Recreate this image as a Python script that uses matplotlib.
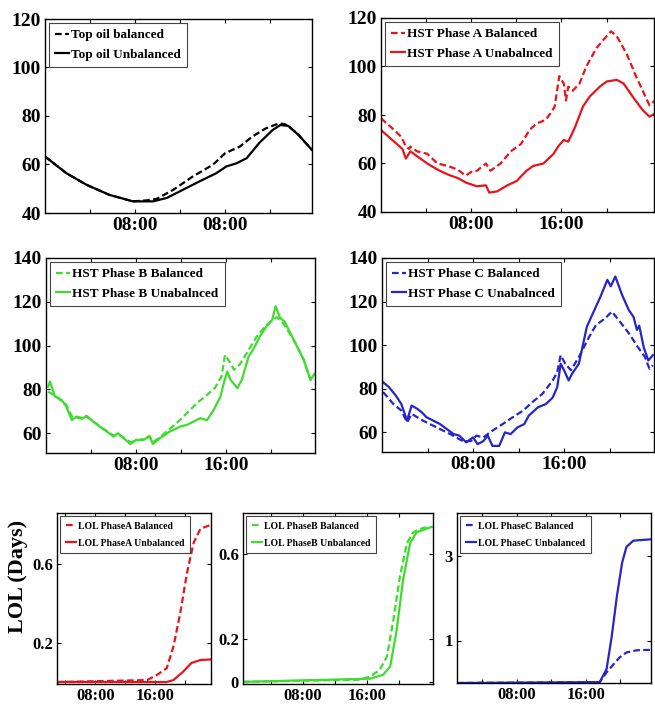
import numpy as np
import matplotlib
matplotlib.use('Agg')
import matplotlib.pyplot as plt

plt.rcParams['font.family'] = ['Liberation Serif', 'DejaVu Serif']
plt.rcParams['font.weight'] = 'bold'

# ---- data (hour of day, value) ----
# top oil temperature
oil_bal_h = [0, 1.9, 3.7, 5.7, 7.8, 9.0, 9.9, 11.4, 13.1, 14.9, 16, 17.3, 18.4, 19.6, 20.8, 21.3, 21.6, 22.5, 23.7]
oil_bal = [63.3, 56.4, 51.6, 47.5, 44.8, 45.2, 45.8, 49.6, 55, 59.9, 64.7, 67.4, 71.5, 74.9, 77, 76.6, 75.9, 72.2, 66]
oil_unb_h = [0, 1.9, 3.7, 5.7, 7.8, 9.6, 10.8, 12, 13.7, 15.2, 16.1, 17, 17.9, 19, 20.2, 20.9, 21.6, 22.5, 23.7]
oil_unb = [63.3, 56.4, 51.6, 47.5, 44.8, 44.8, 46.2, 49, 53, 56.4, 59.2, 60.5, 62.6, 68.8, 74.2, 76.3, 75.9, 72.2, 66]

# hot spot temperature, phase A
hsa_bal_h = [0, 1, 1.8, 2.2, 2.5, 2.6, 3.2, 4.1, 5, 5.9, 6.8, 7.5, 8, 8.5, 9.3, 9.7, 10.6, 11.5, 12.4, 13.2, 13.8,
             14.6, 15, 15.4, 15.8, 16.2, 16.4, 16.6, 17, 17.6, 18.2, 19.1, 20, 20.4, 20.9, 21.8, 22.6, 23.4, 23.8, 24.3]
hsa_bal = [78.6, 74.5, 71, 67, 66, 67, 65, 64, 60, 59, 57.5, 55, 56.5, 57, 60, 57, 60, 65, 68, 74, 76.5,
           78, 80.5, 83.5, 96, 93, 86, 91.7, 90, 93, 100, 107.6, 112.5, 114.5, 112.5, 105, 96, 88, 84, 86]
hsa_unb_h = [0, 1, 1.9, 2.2, 2.6, 3.2, 4.1, 5, 5.9, 6.8, 7.6, 8.5, 9.3, 9.6, 10.3, 11.2, 12, 12.9, 13.5, 14.4,
             15.3, 15.7, 16.2, 16.6, 17.2, 17.9, 18.5, 19.4, 20, 20.9, 21.5, 22.4, 23.2, 23.8, 24.3]
hsa_unb = [73.8, 69.7, 66, 62, 65, 63, 60, 57.5, 55.5, 54, 52, 50.6, 51, 48, 48.5, 51, 52.7, 57, 59, 60,
           64, 67, 69.7, 69, 75, 83.5, 87.6, 91.7, 93.8, 94.5, 93, 87, 82, 79.3, 80.7]

# hot spot temperature, phase B
hsb_bal_h = [0.2, 0.9, 1.8, 2.3, 2.7, 3.3, 3.6, 4.2, 4.8, 5.4, 6, 6.4, 6.9, 7.5, 8, 8.7, 9.2, 9.5, 10.1, 10.7,
             11.6, 12.5, 13.4, 14.3, 15, 15.6, 15.9, 16.4, 16.7, 17.2, 18, 18.7, 19.6, 20.5, 21.1, 22, 22.9, 23.5, 23.9]
hsb_bal = [79, 76.8, 73, 67.6, 67.2, 66.5, 67.5, 65.5, 63, 61, 59, 59.5, 58, 56, 56.5, 57.5, 58.5, 56, 58, 60.8,
           64.6, 69.1, 73.7, 77.5, 80.6, 86, 95.8, 92, 89, 91.3, 98, 104, 109.5, 113, 110, 102.7, 93.5, 84.4, 87.4]
hsb_unb_h = [0.2, 0.35, 0.8, 1.4, 1.8, 2.3, 2.7, 3.3, 3.6, 4.2, 4.8, 5.4, 6, 6.4, 6.9, 7.5, 8, 8.7, 9.2, 9.5,
             10.1, 11, 11.9, 12.5, 13.1, 13.7, 14.3, 14.9, 15.5, 15.8, 16.1, 16.4, 17, 17.4, 18, 18.4, 19, 19.6,
             20.1, 20.4, 20.8, 21.2, 22, 22.9, 23.5, 23.9]
hsb_unb = [81.3, 83.6, 76.8, 75.2, 72.2, 66, 67.6, 66.9, 68, 65.3, 63, 60.8, 58.5, 60, 57.7, 55.1, 57, 57, 58.8, 55.1,
           57.7, 60.8, 63, 63.8, 65.3, 66.9, 66, 70.7, 76.8, 82.9, 88.2, 84.4, 80.6, 84.4, 95, 98.1, 104.2, 108.8,
           111.8, 118, 112.6, 111, 102.7, 93.5, 84.4, 87.4]

# hot spot temperature, phase C
hsc_bal_h = [0.1, 1, 1.7, 2.2, 2.6, 3.6, 4.8, 6, 7.1, 7.8, 8.3, 8.9, 9.7, 10.6, 11.5, 12.4, 13.2, 14.1, 15, 15.4,
             15.7, 16.1, 16.6, 17.3, 18.2, 18.8, 19.6, 20.2, 20.8, 21.7, 22.5, 23.1, 23.5, 23.8]
hsc_bal = [78.5, 73, 70, 64.6, 68.5, 65.4, 62.3, 59.2, 56, 56, 58.5, 57.7, 60.8, 63.8, 67, 70, 73.8, 77.7, 83.8, 87.7,
           95.4, 91.5, 88.5, 94.6, 103.8, 109.2, 112.3, 115.4, 111.5, 105.4, 99, 94.6, 89.2, 90.8]
hsc_unb_h = [0.1, 0.6, 1.2, 1.7, 2.2, 2.6, 3.1, 3.5, 3.9, 4.5, 5.1, 5.7, 6.3, 6.8, 7.4, 8, 8.4, 8.9, 9.3, 9.7,
             10.3, 10.8, 11.3, 11.9, 12.5, 12.9, 13.7, 14.4, 15, 15.4, 15.7, 16, 16.4, 16.7, 17.3, 18, 18.8, 19.2,
             19.8, 20.1, 20.5, 21.1, 21.7, 22.1, 22.4, 22.6, 23, 23.4, 23.8]
hsc_unb = [83, 80.8, 77, 73, 65.4, 72.3, 70.8, 69.2, 67, 65.4, 63.8, 61.5, 59.2, 58.5, 55.4, 57.7, 54.6, 56, 58.5, 53.8,
           53.8, 60, 59.2, 62.3, 63.8, 67.7, 71.5, 73, 76, 80.8, 91.5, 88.5, 83.8, 86.9, 91.5, 108.5, 117.7, 122.3,
           130, 127, 131.5, 123, 116, 113, 107, 109, 99, 93, 95.4]

# loss of life (days)
lola_bal_h = [2.9, 14.9, 16.2, 17.5, 18.4, 19.3, 20.2, 21.1, 22, 23.4]
lola_bal = [0.0, 0.01, 0.036, 0.07, 0.18, 0.35, 0.555, 0.71, 0.78, 0.80]
lola_unb_h = [2.9, 17.5, 18.4, 19.7, 20.8, 22, 23.4]
lola_unb = [0.0, 0.0, 0.01, 0.053, 0.097, 0.112, 0.115]

lolb_bal_h = [0.5, 15.1, 16.4, 17.6, 18.5, 19.3, 20.1, 21, 21.8, 23, 24.1]
lolb_bal = [0.0, 0.01, 0.025, 0.056, 0.12, 0.29, 0.49, 0.65, 0.70, 0.72, 0.725]
lolb_unb_h = [0.5, 16.4, 18, 18.9, 19.7, 20.5, 21.4, 22.2, 24.1]
lolb_unb = [0.0, 0.015, 0.033, 0.072, 0.24, 0.475, 0.65, 0.70, 0.725]

lolc_bal_h = [1.05, 17.6, 18.4, 19.2, 19.9, 20.7, 21.9, 23.5]
lolc_bal = [0.0, 0.02, 0.25, 0.44, 0.6, 0.72, 0.77, 0.78]
lolc_unb_h = [1.05, 17.6, 18.4, 19, 19.6, 20.2, 20.7, 21.5, 23.5]
lolc_unb = [0.0, 0.02, 0.33, 1.1, 2.05, 2.83, 3.2, 3.35, 3.38]

hour_ticks = [4, 8, 12, 16, 20]
RED = '#e8141c'
GREEN = '#3ddc2e'
BLUE = '#2626c8'

W, H = 655, 708
fig = plt.figure(figsize=(W / 100, H / 100), dpi=100)


def box(l, t, r, b):
    return [l / W, 1 - b / H, (r - l) / W, (b - t) / H]


def panel(rect, color, bal, unb, labels, xlim, ylim, yticks, ylabels, xlabels,
          tsize=14, lsize=9.5, lspace=0.55, lpad=0.45, lw=1.6):
    ax = fig.add_axes(rect)
    ax.plot(bal[0], bal[1], '--', color=color, lw=lw, dashes=(3, 1.5), label=labels[0])
    ax.plot(unb[0], unb[1], '-', color=color, lw=lw, label=labels[1])
    ax.set_xlim(xlim)
    ax.set_ylim(ylim)
    ax.set_xticks(hour_ticks)
    ax.set_xticklabels(xlabels)
    ax.set_yticks(yticks)
    ax.set_yticklabels(ylabels)
    ax.tick_params(direction='in', top=True, right=True, length=3, labelsize=tsize, pad=3)
    for s in ax.spines.values():
        s.set_linewidth(1.0)
    leg = ax.legend(loc='upper left', fontsize=lsize, handlelength=1.1, handletextpad=0.15,
                    borderpad=lpad, labelspacing=lspace, borderaxespad=0.3, fancybox=False,
                    framealpha=1, edgecolor='#444444')
    leg.get_frame().set_linewidth(0.8)
    return ax


xl = ['', '08:00', '', '16:00', '']
t_top = [40, 60, 80, 100, 120]
t_mid = [60, 80, 100, 120, 140]

panel(box(45, 19, 312, 213), 'black', (oil_bal_h, oil_bal), (oil_unb_h, oil_unb),
      ['Top oil balanced', 'Top oil Unbalanced'], (0, 23.7), (40, 120),
      t_top, [str(v) for v in t_top], ['', '08:00', '', '08:00', ''])

panel(box(381, 18, 654, 212), RED, (hsa_bal_h, hsa_bal), (hsa_unb_h, hsa_unb),
      ['HST Phase A Balanced', 'HST Phase A Unabalnced'], (0, 24.2), (40, 120),
      t_top, [str(v) for v in t_top], xl)

panel(box(46, 258, 315, 453), GREEN, (hsb_bal_h, hsb_bal), (hsb_unb_h, hsb_unb),
      ['HST Phase B Balanced', 'HST Phase B Unabalnced'], (0, 23.9), (51, 140),
      t_mid, [str(v) for v in t_mid], xl)

panel(box(382, 258, 654, 452), BLUE, (hsc_bal_h, hsc_bal), (hsc_unb_h, hsc_unb),
      ['HST Phase C Balanced', 'HST Phase C Unabalnced'], (0, 23.9), (51, 140),
      t_mid, [str(v) for v in t_mid], xl)

panel(box(57, 513, 211, 684), RED, (lola_bal_h, lola_bal), (lola_unb_h, lola_unb),
      ['LOL PhaseA Balanced', 'LOL PhaseA Unbalanced'], (2.9, 23.4), (-0.01, 0.86),
      [0.2, 0.6], ['0.2', '0.6'], xl, tsize=12, lsize=7, lspace=0.8, lpad=0.6)

panel(box(243, 513, 433, 684), GREEN, (lolb_bal_h, lolb_bal), (lolb_unb_h, lolb_unb),
      ['LOL PhaseB Balanced', 'LOL PhaseB Unbalanced'], (0.5, 24.25), (-0.01, 0.79),
      [0, 0.2, 0.6], ['0', '0.2', '0.6'], xl, tsize=12, lsize=7, lspace=0.8, lpad=0.6)

panel(box(457, 513, 651, 683), BLUE, (lolc_bal_h, lolc_bal), (lolc_unb_h, lolc_unb),
      ['LOL PhaseC Balanced', 'LOL PhaseC Unbalanced'], (1.05, 23.55), (0, 4.0),
      [1, 3], ['1', '3'], xl, tsize=12, lsize=7, lspace=0.8, lpad=0.6)

fig.text(18 / W, 1 - 576 / H, 'LOL (Days)', rotation=90, ha='center', va='center',
         fontsize=16, fontweight='bold')

fig.savefig('out.png', dpi=100)
